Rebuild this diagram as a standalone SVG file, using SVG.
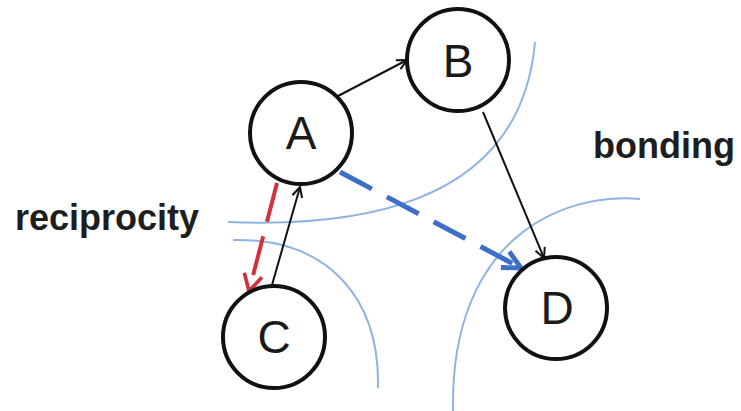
<svg xmlns="http://www.w3.org/2000/svg" width="741" height="411" viewBox="0 0 741 411">
  <style>
    .node circle { fill: #ffffff; stroke: #111111; stroke-width: 4; }
    .node text { font-family: "Liberation Sans", Arial, sans-serif; font-size: 46px; fill: #1a1a1a; text-anchor: middle; }
    .label { font-family: "Liberation Sans", Arial, sans-serif; font-size: 36px; font-weight: bold; fill: #1e1e1e; }
    .zone { fill: none; stroke: #8fb3e3; stroke-width: 2; }
    .edge { fill: none; stroke: #111111; stroke-width: 2; }
    .red { fill: none; stroke: #d1323c; stroke-width: 4; }
    .blue { fill: none; stroke: #3d6fc9; stroke-width: 5; }
  </style>
  <defs>
    <marker id="arrow-black" viewBox="0 0 12 12" refX="11" refY="6" markerWidth="12" markerHeight="12" markerUnits="userSpaceOnUse" orient="auto">
      <path d="M1,1 L11,6 L1,11" fill="none" stroke="#111111" stroke-width="2"/>
    </marker>
    <marker id="arrow-red" viewBox="0 0 12 12" refX="10" refY="6" markerWidth="22" markerHeight="22" markerUnits="userSpaceOnUse" orient="auto">
      <path d="M1,1 L10,6 L1,11" fill="none" stroke="#d1323c" stroke-width="2"/>
    </marker>
    <marker id="arrow-blue" viewBox="0 0 12 12" refX="10" refY="6" markerWidth="24" markerHeight="24" markerUnits="userSpaceOnUse" orient="auto">
      <path d="M1,1.5 L10,6 L1,10.5" fill="none" stroke="#3d6fc9" stroke-width="2.4"/>
    </marker>
  </defs>

  <rect width="741" height="411" fill="#ffffff"/>

  <!-- zone boundaries -->
  <g id="zones">
    <path class="zone" d="M228,222 Q518,234 535,42"/>
    <path class="zone" d="M233,240 C330,238 380,300 378,388"/>
    <path class="zone" d="M640,199 C560,192 450,240 453,411"/>
  </g>

  <!-- connectors -->
  <g id="connectors">
    <line class="edge" x1="338" y1="96" x2="407" y2="60" marker-end="url(#arrow-black)"/>
    <line class="edge" x1="483" y1="112" x2="544" y2="258" marker-end="url(#arrow-black)"/>
    <line class="edge" x1="272" y1="285" x2="300" y2="187" marker-end="url(#arrow-black)"/>
    <line class="red" x1="277" y1="183" x2="249" y2="291" stroke-dasharray="40 15" marker-end="url(#arrow-red)"/>
    <line class="blue" x1="340" y1="172" x2="521" y2="268" stroke-dasharray="36 17" marker-end="url(#arrow-blue)"/>
  </g>

  <g id="node-A" class="node">
    <circle cx="301" cy="133" r="51"/>
    <text x="301" y="149">A</text>
  </g>
  <g id="node-B" class="node">
    <circle cx="458" cy="60" r="51"/>
    <text x="458" y="77">B</text>
  </g>
  <g id="node-C" class="node">
    <circle cx="274" cy="337" r="51"/>
    <text x="274" y="353">C</text>
  </g>
  <g id="node-D" class="node">
    <circle cx="556" cy="308" r="51"/>
    <text x="557" y="324">D</text>
  </g>

  <text class="label" x="15" y="230">reciprocity</text>
  <text class="label" x="593" y="158">bonding</text>
</svg>
